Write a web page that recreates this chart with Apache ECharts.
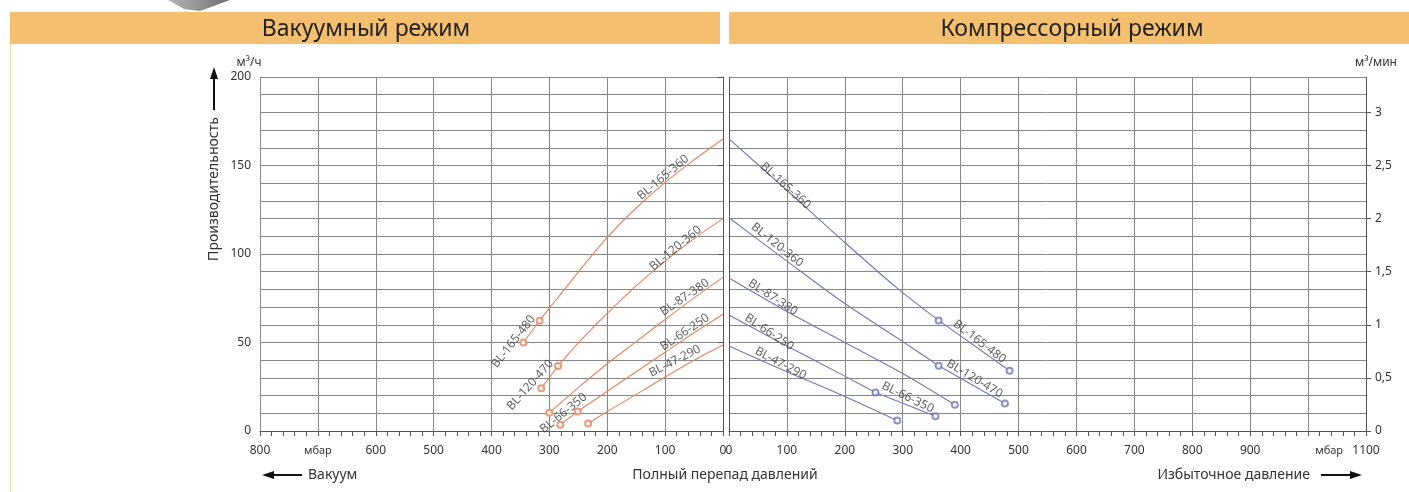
<!DOCTYPE html>
<html><head><meta charset="utf-8">
<script src="https://cdn.jsdelivr.net/npm/echarts@6/dist/echarts.min.js"></script>
<style>html,body{margin:0;padding:0;background:#fff}#c{width:1409px;height:492px}</style>
</head><body><div id="c"></div>
<script>
// ---------------- DATA ----------------
// Vacuum mode (x: mbar, y: m³/h)
const vac165_360 = [[317,62.3],[300,69.4],[250,89.8],[200,109.4],[150,126],[100,140.5],[50,153.2],[0,165]];
const vac165_480 = [[345,50],[317,62.3]];
const vac120_360 = [[285,36.7],[250,49.8],[200,66.5],[150,82],[100,96],[50,108.7],[0,120]];
const vac120_470 = [[314,24.1],[285,36.7]];
const vac87_380  = [[300,10.3],[250,24.5],[200,38],[150,50.5],[100,63],[50,75.2],[0,86.8]];
const vac66_250  = [[251,11],[200,22.5],[150,33.5],[100,44.5],[50,55.5],[0,66]];
const vac66_350  = [[281,3.6],[251,11]];
const vac47_290  = [[233,4.2],[200,11],[150,20.7],[100,30.5],[50,40],[0,48.6]];
// Compressor mode (x: mbar, y: m³/h)
const cmp165_360 = [[0,165],[100,136],[200,106.5],[293,80],[362,62.5]];
const cmp165_480 = [[362,62.5],[484.5,34]];
const cmp120_360 = [[0,120.5],[100,96],[200,72],[300,50.5],[362,36.9]];
const cmp120_470 = [[362,36.9],[476.5,15.5]];
const cmp87_380  = [[0,86.4],[100,67.5],[200,50],[300,32.5],[390,14.8]];
const cmp66_250  = [[0,65.5],[100,48],[200,31],[253,21.8]];
const cmp66_350  = [[253,21.8],[356.6,8.3]];
const cmp47_290  = [[0,48],[100,33.5],[200,19.5],[290.5,5.9]];
// Curve labels: [text, x (mbar), y (m³/h)]
const vacLabels = [['BL-165-360',103.5,143.3],['BL-120-360',82,103.2],['BL-87-380',65.9,75.5],['BL-66-250',65.9,55.8],['BL-47-290',83.2,39.5],['BL-165-480',362,50.5],['BL-120-470',333,26],['BL-66-350',275.6,10]];
const cmpLabels = [['BL-165-360',97.6,138.6],['BL-120-360',83.2,105.1],['BL-87-380',75.6,75.5],['BL-66-250',69.4,55.8],['BL-47-290',89,38.2],['BL-165-480',432.6,50.5],['BL-120-470',424,29.5],['BL-66-350',308.8,19]];
// Tick label values
const vacTicks = [800,700,600,500,400,300,200,100,0];
const cmpTicks = [0,100,200,300,400,500,600,700,800,900,1000,1100];
const flowTicks = [0,50,100,150,200];
const minTicks = [0,0.5,1,1.5,2,2.5,3];

// ---------------- STYLE ----------------
const vacAngles = [40,39.5,34,34,27,52,48,39];
const cmpAngles = [-42,-38.5,-33,-33.5,-28,-37.5,-31,-26];
const FONT = '"Noto Sans","Open Sans",sans-serif';
const ORANGE = '#E5825D', BLUE = '#6F78B5', GRID = '#878787', AX = '#555', TXT = '#333';

const chart = echarts.init(document.getElementById('c'));

function curve(data, gi, color){
  return {type:'line', xAxisIndex:gi, yAxisIndex:gi, data, smooth:0.3,
    symbol:'none', lineStyle:{color, width:1.1}, silent:true, z:3};
}
function markers(list, gi, color){
  const pts = list.map(c => c.reduce((a,b)=> b[0]>a[0]?b:a));
  return {type:'scatter', xAxisIndex:gi, yAxisIndex:gi, data:pts, symbol:'emptyCircle', symbolSize:6,
    itemStyle:{color:color, borderColor:color, borderWidth:1}, silent:true, z:5};
}
function labels(list, angles, gi){
  return {type:'scatter', xAxisIndex:gi, yAxisIndex:gi, symbolSize:0, silent:true, z:6,
    data: list.map((l,i)=>({name:l[0], value:[l[1],l[2]], label:{rotate:angles[i]}})),
    label:{show:true, position:'inside', formatter:p=>p.name, color:'#3a3a3a', fontSize:12, fontFamily:FONT}};
}
const vacList = [vac165_360,vac165_480,vac120_360,vac120_470,vac87_380,vac66_250,vac66_350,vac47_290];
const cmpList = [cmp165_360,cmp165_480,cmp120_360,cmp120_470,cmp87_380,cmp66_250,cmp66_350,cmp47_290];

const xCommon = {type:'value', interval:100,
  axisLine:{show:true, lineStyle:{color:AX, width:1}},
  axisTick:{show:true, length:5, lineStyle:{color:AX}},
  minorTick:{show:true, splitNumber:5, length:5, lineStyle:{color:AX}},
  splitLine:{show:true, lineStyle:{color:GRID, width:1}},
  axisLabel:{color:TXT, fontSize:12, fontFamily:FONT, margin:14,
    rich:{u:{fontSize:11, color:TXT, fontFamily:FONT, padding:[0,0,6,0]}, u2:{fontSize:11, color:TXT, fontFamily:FONT, padding:[0,0,6,42]}}}
};
const yCommon = {type:'value', min:0, max:200, interval:50,
  axisLine:{show:true, lineStyle:{color:AX}},
  splitLine:{show:true, lineStyle:{color:GRID, width:1}},
  minorSplitLine:{show:true, lineStyle:{color:GRID, width:1}},
  minorTick:{show:false, splitNumber:5}
};

const option = {
  animation:false,
  backgroundColor:'#fff',
  textStyle:{fontFamily:FONT},
  grid:[
    {left:260, top:77, width:463, height:354},
    {left:729, top:77, width:637, height:354}
  ],
  xAxis:[
    Object.assign({}, xCommon, {gridIndex:0, min:0, max:800, inverse:true,
      axisLabel:Object.assign({}, xCommon.axisLabel, {customValues:vacTicks,
        formatter:v=> v===700 ? '{u|мбар}' : String(v)})}),
    Object.assign({}, xCommon, {gridIndex:1, min:0, max:1100,
      axisLabel:Object.assign({}, xCommon.axisLabel, {customValues:cmpTicks,
        formatter:v=> v===1000 ? '{u2|мбар}' : String(v)})})
  ],
  yAxis:[
    Object.assign({}, yCommon, {gridIndex:0,
      axisTick:{show:true, length:5, lineStyle:{color:AX}},
      axisLabel:{customValues:flowTicks, color:TXT, fontSize:12, fontFamily:FONT, margin:9}}),
    Object.assign({}, yCommon, {gridIndex:1, axisTick:{show:false}, axisLabel:{show:false}}),
    {type:'value', gridIndex:1, position:'right', min:0, max:200/60,
      axisLine:{show:true, lineStyle:{color:AX}},
      axisTick:{show:true, length:5, customValues:minTicks, lineStyle:{color:AX}},
      splitLine:{show:false},
      axisLabel:{customValues:minTicks, color:TXT, fontSize:12, fontFamily:FONT, margin:9,
        formatter:v=>String(v).replace('.',',')}}
  ],
  series:[
    ...vacList.map(d=>curve(d,0,ORANGE)),
    ...cmpList.map(d=>curve(d,1,BLUE)),
    markers(vacList,0,ORANGE),
    markers(cmpList,1,BLUE),
    labels(vacLabels,vacAngles,0),
    labels(cmpLabels,cmpAngles,1)
  ],
  graphic:[
    {type:'rect', shape:{x:10,y:12,width:710,height:32}, style:{fill:'#F4C070'}, silent:true},
    {type:'rect', shape:{x:729,y:12,width:680,height:32}, style:{fill:'#F4C070'}, silent:true},
    {type:'line', shape:{x1:10.5,y1:44,x2:10.5,y2:492}, style:{stroke:'#F6DDB0', lineWidth:1}, silent:true},
    {type:'polygon', shape:{points:[[168,0],[230,0],[200,11],[184,9]]},
      style:{fill:new echarts.graphic.LinearGradient(0,0,1,0,[{offset:0,color:'#b5b5b5'},{offset:1,color:'#6f6f6f'}])}, silent:true},
    {type:'text', x:366, y:29, style:{text:'Вакуумный режим', font:'23px '+FONT, fill:'#222', align:'center', verticalAlign:'middle'}},
    {type:'text', x:1072, y:29, style:{text:'Компрессорный режим', font:'23px '+FONT, fill:'#222', align:'center', verticalAlign:'middle'}},
    {type:'text', x:249, y:63, style:{text:'м³/ч', font:'12px '+FONT, fill:TXT, align:'center', verticalAlign:'middle'}},
    {type:'text', x:1376, y:63, style:{text:'м³/мин', font:'12px '+FONT, fill:TXT, align:'center', verticalAlign:'middle'}},
    {type:'text', x:214, y:189, rotation:Math.PI/2, style:{text:'Производительность', font:'14px '+FONT, fill:TXT, align:'center', verticalAlign:'middle'}},
    {type:'line', shape:{x1:214,y1:110,x2:214,y2:76}, style:{stroke:'#111', lineWidth:2}, silent:true},
    {type:'polygon', shape:{points:[[210,79],[218,79],[214,67]]}, style:{fill:'#111'}, silent:true},
    {type:'line', shape:{x1:302,y1:475,x2:272,y2:475}, style:{stroke:'#111', lineWidth:2}, silent:true},
    {type:'polygon', shape:{points:[[274,471],[274,479],[262,475]]}, style:{fill:'#111'}, silent:true},
    {type:'text', x:308, y:475, style:{text:'Вакуум', font:'14px '+FONT, fill:TXT, align:'left', verticalAlign:'middle'}},
    {type:'text', x:725, y:475, style:{text:'Полный перепад давлений', font:'14px '+FONT, fill:TXT, align:'center', verticalAlign:'middle'}},
    {type:'text', x:1310, y:475, style:{text:'Избыточное давление', font:'14px '+FONT, fill:TXT, align:'right', verticalAlign:'middle'}},
    {type:'line', shape:{x1:1321,y1:475,x2:1352,y2:475}, style:{stroke:'#111', lineWidth:2}, silent:true},
    {type:'polygon', shape:{points:[[1350,471],[1350,479],[1362,475]]}, style:{fill:'#111'}, silent:true}
  ]
};
chart.setOption(option);
</script>
</body></html>
